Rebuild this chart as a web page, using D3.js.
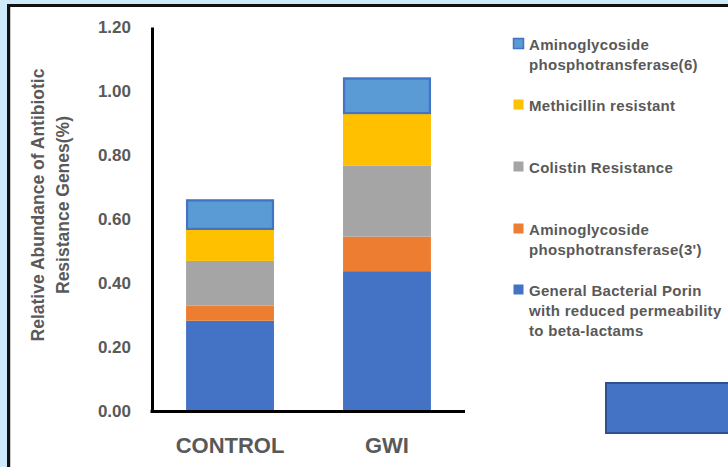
<!DOCTYPE html>
<html>
<head>
<meta charset="utf-8">
<script src="https://cdn.jsdelivr.net/npm/d3@7"></script>
<style>
  html, body { margin: 0; padding: 0; background: #cde9fa; }
  svg { display: block; }
  text { font-family: "Liberation Sans", Arial, sans-serif; font-weight: bold; fill: #595959; }
</style>
</head>
<body>
<svg id="chart" width="728" height="467"></svg>
<script>
// Groups along the x axis
const categories = ["CONTROL", "GWI"];

// Gene classes, bottom of the stack first
const seriesNames = [
  "General Bacterial Porin with reduced permeability to beta-lactams",
  "Aminoglycoside phosphotransferase(3')",
  "Colistin Resistance",
  "Methicillin resistant",
  "Aminoglycoside phosphotransferase(6)"
];

// Relative abundance (%) per class, one entry per category
const porin       = [0.282, 0.437];
const aph3        = [0.047, 0.108];
const colistin    = [0.140, 0.221];
const methicillin = [0.097, 0.162];
const aph6        = [0.095, 0.114];

const yTicks = [0, 0.2, 0.4, 0.6, 0.8, 1.0, 1.2];

// Legend entries, top to bottom, with their wrapped lines
const legendLines = [
  ["Aminoglycoside", "phosphotransferase(6)"],
  ["Methicillin resistant"],
  ["Colistin Resistance"],
  ["Aminoglycoside", "phosphotransferase(3')"],
  ["General Bacterial Porin", "with reduced permeability", "to beta-lactams"]
];

const colors = ["#4472C4", "#ED7D31", "#A5A5A5", "#FFC000", "#5B9BD5"];

const svg = d3.select("#chart");

// White panel with dark frame
svg.append("rect")
  .attr("x", 8.5).attr("y", 5.5)
  .attr("width", 760).attr("height", 480)
  .attr("fill", "#ffffff")
  .attr("stroke", "#111").attr("stroke-width", 3);
svg.append("line")
  .attr("x1", 10.5).attr("x2", 10.5).attr("y1", 7).attr("y2", 467)
  .attr("stroke", "#c8c8c8").attr("stroke-width", 1);

const table = categories.map((c, i) => ({
  cat: c,
  s0: porin[i], s1: aph3[i], s2: colistin[i], s3: methicillin[i], s4: aph6[i]
}));
const keys = ["s0", "s1", "s2", "s3", "s4"];
const stacked = d3.stack().keys(keys)(table);

const x = d3.scaleBand().domain(categories).range([152, 465]).paddingInner(0.44).paddingOuter(0.217);
const y = d3.scaleLinear().domain([0, 1.2]).range([411, 27]);

// Bars
const layers = svg.append("g").selectAll("g").data(stacked).join("g")
  .attr("fill", (d, i) => colors[i]);
layers.selectAll("rect").data(d => d).join("rect")
  .attr("x", d => x(d.data.cat))
  .attr("width", x.bandwidth())
  .attr("y", d => y(d[1]))
  .attr("height", d => y(d[0]) - y(d[1]));

// Top segment has a darker outline
svg.append("g").selectAll("rect").data(stacked[4]).join("rect")
  .attr("x", d => x(d.data.cat) + 1)
  .attr("width", x.bandwidth() - 2)
  .attr("y", d => y(d[1]) + 1)
  .attr("height", d => y(d[0]) - y(d[1]) - 2)
  .attr("fill", "none")
  .attr("stroke", "#4472C4").attr("stroke-width", 2.2);

// Y axis
const yAxis = d3.axisLeft(y).tickValues(yTicks).tickFormat(d3.format(".2f")).tickSize(0).tickPadding(21);
const gy = svg.append("g").attr("transform", "translate(152,0)").call(yAxis);
gy.select(".domain").attr("stroke", "#000").attr("stroke-width", 3);
gy.selectAll("text").attr("font-size", 17).attr("fill", "#595959")
  .style("font-family", "'Liberation Sans', Arial, sans-serif").style("font-weight", "bold");

// X axis line and category labels
const xAxis = d3.axisBottom(x).tickSize(0);
const gx = svg.append("g").attr("transform", "translate(0,411)").call(xAxis);
gx.select(".domain").attr("stroke", "#000").attr("stroke-width", 3).attr("d", "M150.5,0.5H465");
gx.selectAll("text").attr("font-size", 22).attr("y", 42).attr("dy", 0).attr("fill", "#595959")
  .style("font-family", "'Liberation Sans', Arial, sans-serif").style("font-weight", "bold");

// Y axis title
const yt = svg.append("text")
  .attr("transform", "translate(44,205) rotate(-90)")
  .attr("text-anchor", "middle")
  .attr("font-size", 17.5);
yt.append("tspan").attr("x", 0).attr("dy", 0).text("Relative Abundance of Antibiotic");
yt.append("tspan").attr("x", 0).attr("dy", 25).text("Resistance Genes(%)");

// Legend
const legendY = [44, 105, 167, 229, 290];
const legendOrder = [4, 3, 2, 1, 0];
const lg = svg.append("g");
legendLines.forEach((lines, i) => {
  const si = legendOrder[i];
  const g = lg.append("g").attr("transform", `translate(513,${legendY[i]})`);
  g.append("rect")
    .attr("x", 0.5).attr("y", -5.5).attr("width", 10).attr("height", 10)
    .attr("fill", colors[si])
    .attr("stroke", si === 4 ? "#4472C4" : "none").attr("stroke-width", 1.5);
  const t = g.append("text").attr("x", 16).attr("y", 5.5)
    .attr("font-size", 15).attr("letter-spacing", 0.3);
  lines.forEach((l, j) => {
    t.append("tspan").attr("x", 16).attr("dy", j === 0 ? 0 : 20).text(l);
  });
});

// Loose blue shape at the lower right
svg.append("rect")
  .attr("x", 606).attr("y", 383).attr("width", 140).attr("height", 50)
  .attr("fill", "#4472C4").attr("stroke", "#2F528F").attr("stroke-width", 2);
</script>
</body>
</html>
